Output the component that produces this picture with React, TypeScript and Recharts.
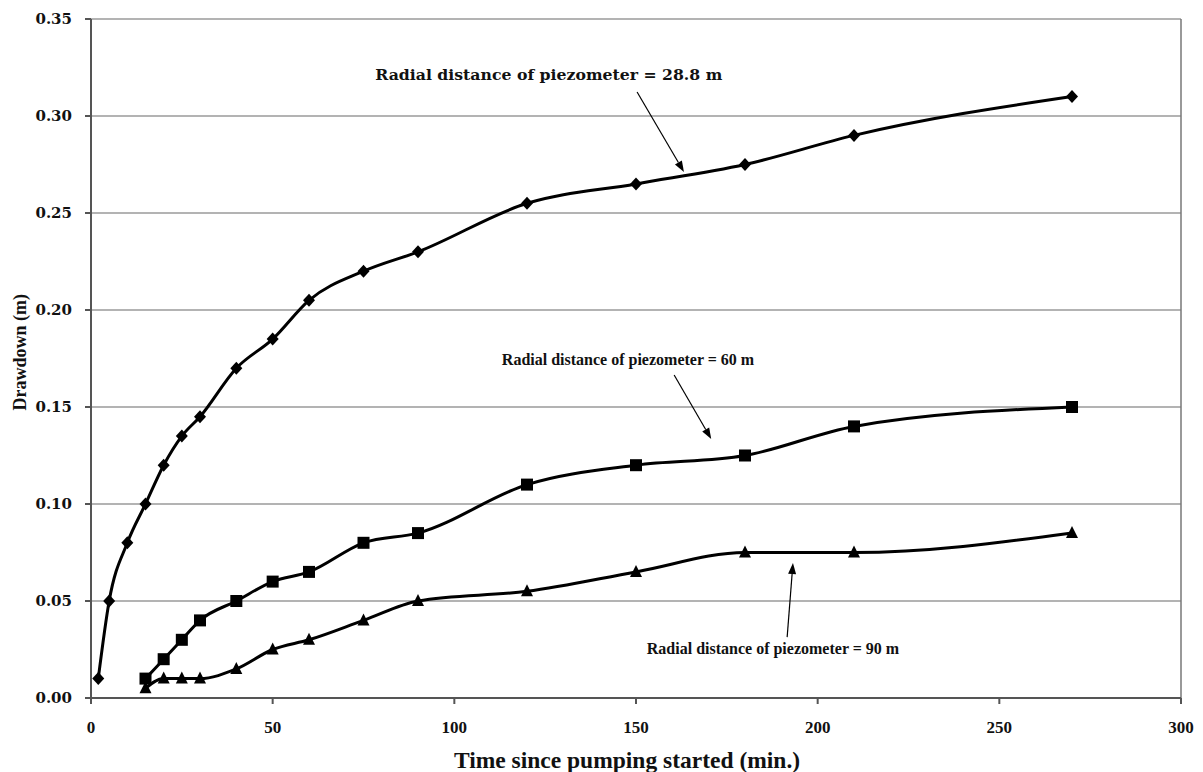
import React from "react";
import { CartesianGrid, Line, LineChart, ReferenceDot, ReferenceLine, XAxis, YAxis } from "recharts";

// time since pumping started (min.)
const times288 = [2, 5, 10, 15, 20, 25, 30, 40, 50, 60, 75, 90, 120, 150, 180, 210, 270];
const drawdown288 = [0.01, 0.05, 0.08, 0.1, 0.12, 0.135, 0.145, 0.17, 0.185, 0.205, 0.22, 0.23, 0.255, 0.265, 0.275, 0.29, 0.31];

const times60 = [15, 20, 25, 30, 40, 50, 60, 75, 90, 120, 150, 180, 210, 270];
const drawdown60 = [0.01, 0.02, 0.03, 0.04, 0.05, 0.06, 0.065, 0.08, 0.085, 0.11, 0.12, 0.125, 0.14, 0.15];

const times90 = [15, 20, 25, 30, 40, 50, 60, 75, 90, 120, 150, 180, 210, 270];
const drawdown90 = [0.005, 0.01, 0.01, 0.01, 0.015, 0.025, 0.03, 0.04, 0.05, 0.055, 0.065, 0.075, 0.075, 0.085];

const xTicks = [0, 50, 100, 150, 200, 250, 300];
const yTicks = [0, 0.05, 0.1, 0.15, 0.2, 0.25, 0.3, 0.35];

// annotations: label anchor, arrow start and arrow tip (data coords)
const labels = [
  "Radial distance of piezometer = 28.8 m",
  "Radial distance of piezometer = 60 m",
  "Radial distance of piezometer = 90 m",
];
const labelAt = [
  { t: 126, d: 0.3213 },
  { t: 147.8, d: 0.1745 },
  { t: 187.7, d: 0.0255 },
];
const arrowFrom = [
  { t: 150.3, d: 0.3124 },
  { t: 160.5, d: 0.1665 },
  { t: 191.6, d: 0.0314 },
];
const arrowTo = [
  { t: 163.2, d: 0.2711 },
  { t: 170.7, d: 0.1335 },
  { t: 193.2, d: 0.0696 },
];

const zip = (t: number[], d: number[]) => t.map((v, i) => ({ t: v, d: d[i] }));
const s288 = zip(times288, drawdown288);
const s60 = zip(times60, drawdown60);
const s90 = zip(times90, drawdown90);

const SERIF = "'Liberation Serif', serif";
const WIDE = "'DejaVu Serif', serif";

const dot = (kind: "diamond" | "square" | "triangle") => (props: any) => {
  const { cx, cy, index } = props;
  if (cx == null || cy == null) return <g key={index} />;
  if (kind === "diamond")
    return <polygon key={index} points={`${cx},${cy - 6.5} ${cx + 6},${cy} ${cx},${cy + 6.5} ${cx - 6},${cy}`} fill="#000" />;
  if (kind === "square")
    return <rect key={index} x={cx - 6} y={cy - 6} width={12} height={12} fill="#000" />;
  return <polygon key={index} points={`${cx},${cy - 7} ${cx + 6},${cy + 5} ${cx - 6},${cy + 5}`} fill="#000" />;
};

const Arrow = (props: any) => {
  const { x1, y1, x2, y2 } = props;
  if ([x1, y1, x2, y2].some((v) => v == null)) return null;
  const ang = Math.atan2(y2 - y1, x2 - x1);
  const len = 11;
  const w = 4;
  const bx = x2 - len * Math.cos(ang);
  const by = y2 - len * Math.sin(ang);
  const px = -Math.sin(ang) * w;
  const py = Math.cos(ang) * w;
  return (
    <g>
      <line x1={x1} y1={y1} x2={bx} y2={by} stroke="#000" strokeWidth={1.2} />
      <polygon points={`${x2},${y2} ${bx + px},${by + py} ${bx - px},${by - py}`} fill="#000" />
    </g>
  );
};

export default function App() {
  return (
    <div style={{ position: "absolute", left: 0, top: 0, background: "#fff" }}>
      <LineChart width={1203} height={772} margin={{ top: 19, right: 22, bottom: 0, left: 31 }}>
        <CartesianGrid vertical={false} stroke="#9a9a9a" strokeWidth={1.5} />
        <XAxis
          type="number"
          dataKey="t"
          domain={[0, 300]}
          ticks={xTicks}
          height={74}
          stroke="#555"
          strokeWidth={2}
          tickSize={6}
          tick={{ fill: "#111", fontSize: 17, fontWeight: 700, fontFamily: SERIF }}
          tickMargin={17}
          label={{ value: "Time since pumping started (min.)", position: "insideBottom", offset: 4, dx: -9, fill: "#111", fontSize: 23.5, fontWeight: 700, fontFamily: SERIF }}
        />
        <YAxis
          type="number"
          dataKey="d"
          domain={[0, 0.35]}
          ticks={yTicks}
          width={60}
          stroke="#555"
          strokeWidth={2}
          tickSize={6}
          tickMargin={13}
          tickFormatter={(v: number) => v.toFixed(2)}
          tick={{ fill: "#111", fontSize: 15, fontWeight: 700, fontFamily: WIDE }}
          label={{ value: "Drawdown (m)", angle: -90, position: "insideLeft", offset: -11, dy: 52, fill: "#111", fontSize: 18, fontWeight: 700, fontFamily: SERIF }}
        />
        <ReferenceLine x={300} stroke="#777" strokeWidth={1.5} />
        <Line data={s288} dataKey="d" type="monotone" stroke="#000" strokeWidth={3} dot={dot("diamond")} isAnimationActive={false} />
        <Line data={s60} dataKey="d" type="monotone" stroke="#000" strokeWidth={3} dot={dot("square")} isAnimationActive={false} />
        <Line data={s90} dataKey="d" type="monotone" stroke="#000" strokeWidth={3} dot={dot("triangle")} isAnimationActive={false} />
        {labels.map((txt, i) => (
          <ReferenceLine
            key={`a${i}`}
            segment={[
              { x: arrowFrom[i].t, y: arrowFrom[i].d },
              { x: arrowTo[i].t, y: arrowTo[i].d },
            ]}
            shape={Arrow}
          />
        ))}
        {labels.map((txt, i) => (
          <ReferenceDot
            key={`l${i}`}
            x={labelAt[i].t}
            y={labelAt[i].d}
            r={0}
            fill="none"
            stroke="none"
            label={{
              value: txt,
              position: "center",
              fill: "#111",
              fontSize: i === 0 ? 15.7 : 16,
              fontWeight: 700,
              fontFamily: i === 0 ? WIDE : SERIF,
            }}
          />
        ))}
      </LineChart>
    </div>
  );
}
